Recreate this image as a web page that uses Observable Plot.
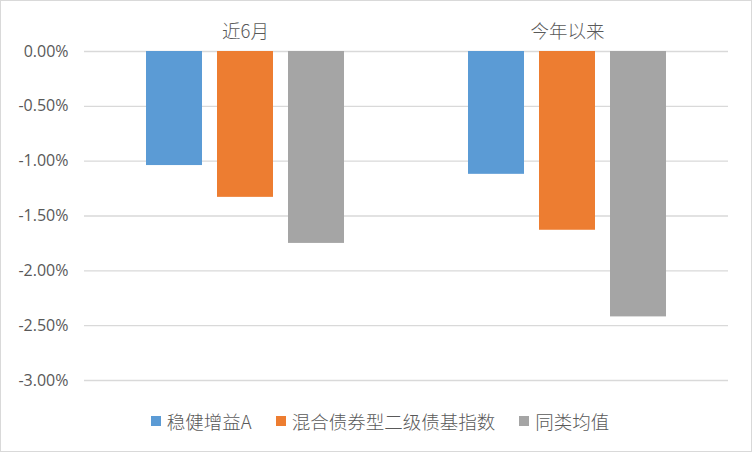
<!DOCTYPE html>
<html><head><meta charset="utf-8">
<script src="https://cdn.jsdelivr.net/npm/d3@7"></script>
<script src="https://cdn.jsdelivr.net/npm/@observablehq/plot@0.6"></script>
<style>
body{margin:0;background:#fff;}
#frame{width:750px;height:450px;border:1px solid #d9d9d9;position:relative;overflow:hidden;background:#fff;}
#chart{position:absolute;left:0;top:0;}
#legend{position:absolute;top:406px;left:0;width:750px;height:28px;display:flex;justify-content:center;align-items:center;
  font-family:"Noto Sans CJK SC",sans-serif;font-size:18.5px;font-weight:300;color:#595959;padding-left:8px;box-sizing:border-box;}
.item{display:flex;align-items:center;margin:0 12px;}
.sw{width:10px;height:10px;margin-right:6px;}
</style>
</head><body>
<div id="frame"><div id="chart"></div><div id="legend"></div></div>
<script>
const periods = ["近6月", "今年以来"];
const seriesNames = ["稳健增益A", "混合债券型二级债基指数", "同类均值"];
const seriesColors = ["#5B9BD5", "#ED7D31", "#A5A5A5"];
const valuesWJZY = [-1.04, -1.12];
const valuesIndex = [-1.33, -1.63];
const valuesAvg = [-1.75, -2.42];
const yTicks = [0, -0.5, -1, -1.5, -2, -2.5, -3];

const seriesValues = [valuesWJZY, valuesIndex, valuesAvg];
const data = [];
periods.forEach((p, i) => seriesNames.forEach((s, j) => data.push({period: p, series: s, value: seriesValues[j][i]})));

const fmt = d => d.toFixed(2) + "%";

const chart = Plot.plot({
  width: 750,
  height: 399,
  marginTop: 50,
  marginBottom: 20,
  marginLeft: 83,
  marginRight: 23,
  style: {color: "#595959", background: "#fff", fontFamily: "'Open Sans', sans-serif"},
  fx: {domain: periods, padding: 0, axis: null},
  x: {domain: seriesNames, paddingInner: 0.211, paddingOuter: 0.873, axis: null},
  y: {domain: [-3, 0], axis: null},
  color: {domain: seriesNames, range: seriesColors},
  marks: [
    Plot.gridY(yTicks, {stroke: "#d9d9d9", strokeOpacity: 1, strokeWidth: 1.3}),
    Plot.barY(data, {fx: "period", x: "series", y1: 0, y2: "value", fill: "series"}),
    Plot.axisY(yTicks, {tickSize: 0, tickPadding: 16, tickFormat: fmt, fontSize: 16, label: null}),
    Plot.axisFx({anchor: "top", tickSize: 0, tickPadding: 14, fontSize: 18.5, fontWeight: 300, label: null, fontFamily: "'Noto Sans CJK SC', sans-serif"})
  ]
});
document.getElementById("chart").appendChild(chart);

const legend = document.getElementById("legend");
seriesNames.forEach((s, i) => {
  const it = document.createElement("div");
  it.className = "item";
  const sw = document.createElement("div");
  sw.className = "sw";
  sw.style.background = seriesColors[i];
  const t = document.createElement("span");
  t.textContent = s;
  it.appendChild(sw); it.appendChild(t);
  legend.appendChild(it);
});
</script>
</body></html>
